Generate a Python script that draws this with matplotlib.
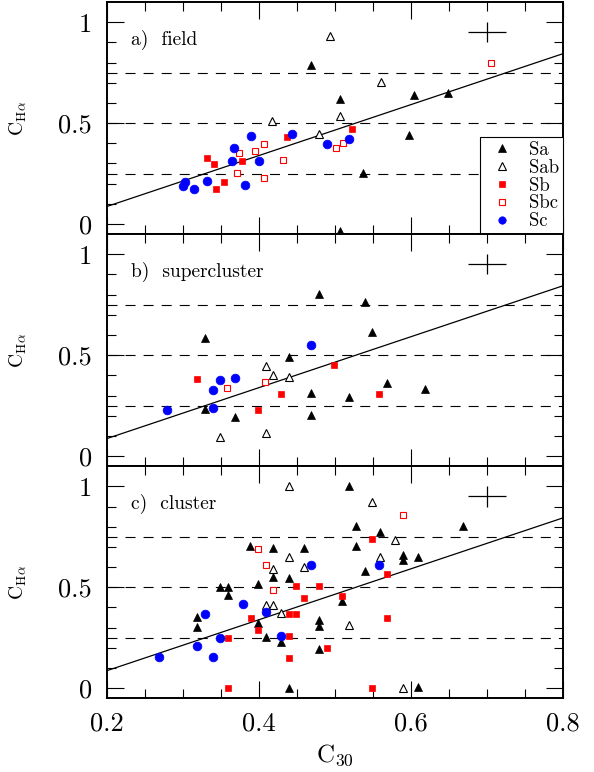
import matplotlib
matplotlib.use("Agg")
import matplotlib.pyplot as plt
from matplotlib.lines import Line2D

plt.rcParams['font.family'] = ['cmr10', 'DejaVu Serif']
plt.rcParams['mathtext.fontset'] = 'cm'
plt.rcParams['axes.formatter.use_mathtext'] = True
plt.rcParams['lines.scale_dashes'] = False

# ---------------- data ----------------
panel_labels = ['a)  field', 'b)  supercluster', 'c)  cluster']

# panel a: field
a_Sa_x = [0.468, 0.507, 0.604, 0.649, 0.597, 0.537, 0.507]
a_Sa_y = [0.786, 0.617, 0.638, 0.651, 0.441, 0.255, -0.033]
a_Sab_x = [0.493, 0.561, 0.417, 0.506, 0.479]
a_Sab_y = [0.934, 0.702, 0.510, 0.535, 0.444]
a_Sb_x = [0.332, 0.341, 0.377, 0.354, 0.343, 0.437, 0.523]
a_Sb_y = [0.326, 0.298, 0.311, 0.209, 0.174, 0.429, 0.469]
a_Sbc_x = [0.705, 0.374, 0.395, 0.406, 0.431, 0.371, 0.406, 0.501, 0.511]
a_Sbc_y = [0.798, 0.350, 0.362, 0.398, 0.316, 0.255, 0.227, 0.377, 0.401]
a_Sc_x = [0.303, 0.300, 0.314, 0.331, 0.382, 0.364, 0.367, 0.389, 0.400, 0.443, 0.489, 0.519]
a_Sc_y = [0.209, 0.188, 0.171, 0.214, 0.192, 0.313, 0.375, 0.434, 0.313, 0.444, 0.395, 0.419]

# panel b: supercluster
b_Sa_x = [0.479, 0.539, 0.549, 0.329, 0.439, 0.569, 0.619, 0.468, 0.519, 0.329, 0.368, 0.468]
b_Sa_y = [0.803, 0.763, 0.614, 0.584, 0.493, 0.363, 0.333, 0.311, 0.295, 0.232, 0.192, 0.204]
b_Sab_x = [0.409, 0.418, 0.439, 0.349, 0.409]
b_Sab_y = [0.444, 0.404, 0.394, 0.093, 0.113]
b_Sb_x = [0.319, 0.499, 0.429, 0.558, 0.399]
b_Sb_y = [0.381, 0.450, 0.306, 0.306, 0.228]
b_Sbc_x = [0.358, 0.408]
b_Sbc_y = [0.339, 0.369]
b_Sc_x = [0.279, 0.339, 0.339, 0.349, 0.368, 0.468]
b_Sc_y = [0.228, 0.240, 0.328, 0.379, 0.389, 0.550]

# panel c: cluster
c_Sa_x = [0.518, 0.528, 0.559, 0.669, 0.528, 0.388, 0.418, 0.459, 0.589, 0.589,
          0.609, 0.439, 0.418, 0.539, 0.399, 0.349, 0.359, 0.359, 0.509, 0.319,
          0.319, 0.399, 0.409, 0.429, 0.479, 0.479, 0.479, 0.439, 0.609]
c_Sa_y = [1.004, 0.803, 0.773, 0.803, 0.703, 0.703, 0.694, 0.694, 0.662, 0.634,
          0.652, 0.544, 0.553, 0.583, 0.514, 0.501, 0.501, 0.463, 0.433, 0.352,
          0.302, 0.322, 0.253, 0.230, 0.340, 0.310, 0.192, 0.000, 0.004]
c_Sab_x = [0.439, 0.549, 0.579, 0.559, 0.439, 0.459, 0.418, 0.409, 0.418, 0.429, 0.519, 0.589]
c_Sab_y = [1.004, 0.923, 0.733, 0.651, 0.652, 0.603, 0.591, 0.413, 0.413, 0.372, 0.314, 0.000]
c_Sb_x = [0.549, 0.569, 0.449, 0.479, 0.459, 0.509, 0.389, 0.439, 0.449, 0.399,
          0.359, 0.439, 0.489, 0.439, 0.569, 0.359, 0.549]
c_Sb_y = [0.740, 0.566, 0.507, 0.507, 0.448, 0.458, 0.349, 0.368, 0.368, 0.290,
          0.250, 0.259, 0.200, 0.150, 0.350, 0.000, 0.000]
c_Sbc_x = [0.589, 0.399, 0.409, 0.418]
c_Sbc_y = [0.859, 0.689, 0.608, 0.489]
c_Sc_x = [0.468, 0.558, 0.379, 0.409, 0.329, 0.349, 0.429, 0.319, 0.339, 0.269]
c_Sc_y = [0.608, 0.608, 0.419, 0.378, 0.368, 0.250, 0.259, 0.208, 0.157, 0.157]

# fit line (same in all panels) and reference levels
fit_x = [0.2, 0.8]
fit_y = [0.087, 0.844]
ref_levels = [0.25, 0.5, 0.75]
err_x, err_y, err_dx, err_dy = 0.7, 0.95, 0.025, 0.05

legend_names = ['Sa', 'Sab', 'Sb', 'Sbc', 'Sc']

panels = [
    dict(Sa=(a_Sa_x, a_Sa_y), Sab=(a_Sab_x, a_Sab_y), Sb=(a_Sb_x, a_Sb_y),
         Sbc=(a_Sbc_x, a_Sbc_y), Sc=(a_Sc_x, a_Sc_y)),
    dict(Sa=(b_Sa_x, b_Sa_y), Sab=(b_Sab_x, b_Sab_y), Sb=(b_Sb_x, b_Sb_y),
         Sbc=(b_Sbc_x, b_Sbc_y), Sc=(b_Sc_x, b_Sc_y)),
    dict(Sa=(c_Sa_x, c_Sa_y), Sab=(c_Sab_x, c_Sab_y), Sb=(c_Sb_x, c_Sb_y),
         Sbc=(c_Sbc_x, c_Sbc_y), Sc=(c_Sc_x, c_Sc_y)),
]

styles = {
    'Sa':  dict(marker='^', ms=6.0, mfc='black', mec='black', mew=0.5),
    'Sab': dict(marker='^', ms=6.0, mfc='white', mec='black', mew=0.8),
    'Sb':  dict(marker='s', ms=4.8, mfc='#ff0000', mec='#ff0000', mew=0.5),
    'Sbc': dict(marker='s', ms=4.6, mfc='white', mec='#ff0000', mew=0.8),
    'Sc':  dict(marker='o', ms=6.3, mfc='#0000ff', mec='#0000ff', mew=0.5),
}

# ---------------- figure ----------------
fig = plt.figure(figsize=(5.94, 7.72), dpi=100)
left, width = 107 / 594, 456 / 594
bottom0 = 1 - 698.3 / 772
ph = 232.1 / 772

axes = []
for i in range(3):
    b = bottom0 + (2 - i) * ph
    ax = fig.add_axes([left, b, width, ph])
    axes.append(ax)

for i, ax in enumerate(axes):
    for lv in ref_levels:
        ax.axhline(lv, color='black', lw=0.8, linestyle=(0, (7.2, 5.8)), zorder=1)
    ax.plot(fit_x, fit_y, color='black', lw=0.9, zorder=2)
    ax.errorbar([err_x], [err_y], xerr=[err_dx], yerr=[err_dy], fmt='none',
                ecolor='black', elinewidth=0.9, capsize=0, zorder=2)
    for key in legend_names:
        xs, ys = panels[i][key]
        ax.plot(xs, ys, linestyle='none', zorder=3, **styles[key])
    ax.text(0.231, 0.912, panel_labels[i], fontsize=14, va='center', ha='left')

    ax.set_xlim(0.2, 0.8)
    ax.set_ylim(-0.05, 1.1)
    ax.set_xticks([0.2, 0.4, 0.6, 0.8])
    ax.set_xticks([0.2 + 0.05 * k for k in range(13)], minor=True)
    ax.set_yticks([0, 0.5, 1])
    ax.set_yticks([0.1 * k for k in range(11)], minor=True)
    ax.set_yticklabels(['0', '0.5', '1'])
    ax.tick_params(which='both', direction='in', top=True, right=True,
                   width=0.8, labelsize=19)
    ax.tick_params(which='major', length=12)
    ax.tick_params(which='minor', length=6.5)
    ax.tick_params(axis='y', pad=11)
    ax.tick_params(axis='x', pad=10)
    for sp in ax.spines.values():
        sp.set_linewidth(1.4)
    ax.set_ylabel(r'$\mathrm{C}_{\mathrm{H}\alpha}$', fontsize=14)
    ax.yaxis.set_label_coords(-0.17, 0.5)
    if i < 2:
        ax.tick_params(axis='x', labelbottom=False)
    else:
        ax.set_xticklabels(['0.2', '0.4', '0.6', '0.8'])
        ax.set_xlabel(r'$\mathrm{C}_{30}$', fontsize=18)
        ax.xaxis.set_label_coords(0.5, -0.19)

handles = [Line2D([], [], linestyle='none', **dict(styles[k], ms=styles[k]['ms'] * 0.85))
           for k in legend_names]
leg = axes[0].legend(handles, legend_names, loc='lower right',
                     borderaxespad=0, fancybox=False, framealpha=1, edgecolor='black',
                     fontsize=13.5, labelspacing=0.0, handlelength=1.9,
                     handletextpad=0.5, borderpad=0.2)
leg.get_frame().set_linewidth(0.8)
leg.set_zorder(5)

fig.savefig('out.png', dpi=100)
